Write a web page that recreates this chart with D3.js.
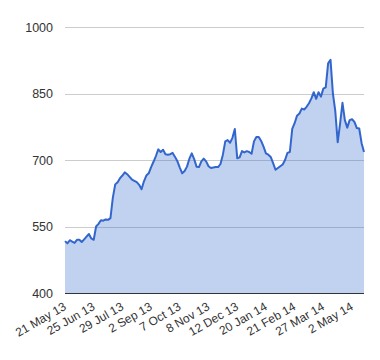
<!DOCTYPE html>
<html>
<head>
<meta charset="utf-8">
<script src="https://cdn.jsdelivr.net/npm/d3@7"></script>
<style>
	body { margin: 0; background: #fff; }
	svg { display: block; font-family: Arial, "Liberation Sans", sans-serif; }
</style>
</head>
<body>
<div id="chart"></div>
<script>
// closing price, one value every 2 trading days (21 May 13 -> mid May 14)
const values = [
	517, 512, 519, 516, 513, 520, 520, 515, 521, 527,
	533, 523, 520, 550, 556, 564, 563, 566, 565, 569,
	615, 645, 650, 659, 665, 672, 668, 662, 656, 653,
	650, 644, 634, 652, 665, 670, 684, 696, 709, 724,
	718, 723, 713, 712, 713, 716, 707, 697, 683, 670,
	675, 685, 703, 715, 702, 685, 684, 697, 703, 697,
	686, 682, 683, 684, 684, 691, 712, 742, 745, 739,
	750, 770, 704, 706, 720, 717, 720, 718, 714, 742,
	752, 752, 743, 730, 715, 712, 707, 693, 678, 682,
	686, 690, 700, 716, 718, 770, 783, 800, 805, 816,
	814, 820, 828, 839, 853, 838, 853, 843, 861, 864,
	918, 926, 850, 810, 740, 782, 829, 790, 773, 790,
	792, 786, 772, 771, 738, 718
]
const tickLabels = ['21 May 13', '25 Jun 13', '29 Jul 13', '2 Sep 13', '7 Oct 13', '8 Nov 13',
	'12 Dec 13', '20 Jan 14', '21 Feb 14', '27 Mar 14', '2 May 14']
const tickEvery = 12
const yTicks = [400, 550, 700, 850, 1000]

const width = 380,
	height = 360,
	margin = { top: 27, right: 16, bottom: 67, left: 65 }

const svg = d3.select('#chart').append('svg')
	.attr('width', width)
	.attr('height', height)

const x = d3.scaleLinear()
		.domain([0, values.length - 1])
		.range([margin.left, width - margin.right]),
	y = d3.scaleLinear()
		.domain([400, 1000])
		.range([height - margin.bottom, margin.top])

// gridlines
svg.append('g')
	.selectAll('line')
	.data(yTicks.slice(1))
	.enter().append('line')
		.attr('x1', margin.left)
		.attr('x2', width - margin.right)
		.attr('y1', (d) => Math.round(y(d)) + 0.5)
		.attr('y2', (d) => Math.round(y(d)) + 0.5)
		.attr('stroke', '#cccccc')

// y labels
svg.append('g')
	.selectAll('text')
	.data(yTicks)
	.enter().append('text')
		.text((d) => d)
		.attr('x', 53)
		.attr('y', (d) => y(d))
		.attr('dy', '0.36em')
		.attr('text-anchor', 'end')
		.attr('font-size', '12.5px')
		.attr('fill', '#333')

const area = d3.area()
	.x((d, i) => x(i))
	.y0(y(400))
	.y1((d) => y(d))

const line = d3.line()
	.x((d, i) => x(i))
	.y((d) => y(d))

svg.append('path')
	.datum(values)
	.attr('d', area)
	.attr('fill', '#3366cc')
	.attr('fill-opacity', 0.3)

svg.append('path')
	.datum(values)
	.attr('d', line)
	.attr('fill', 'none')
	.attr('stroke', '#3366cc')
	.attr('stroke-width', 2)
	.attr('stroke-linejoin', 'round')

// baseline
svg.append('line')
	.attr('x1', margin.left)
	.attr('x2', width - margin.right)
	.attr('y1', Math.round(y(400)) + 0.5)
	.attr('y2', Math.round(y(400)) + 0.5)
	.attr('stroke', '#333')

// x labels, slanted
svg.append('g')
	.selectAll('text')
	.data(tickLabels)
	.enter().append('text')
		.text((d) => d)
		.attr('text-anchor', 'end')
		.attr('font-size', '12px')
		.attr('fill', '#333')
		.attr('transform', (d, i) => 'translate(' + (x(i * tickEvery) + 2) + ',' + 309 + ') rotate(-30)')
</script>
</body>
</html>
